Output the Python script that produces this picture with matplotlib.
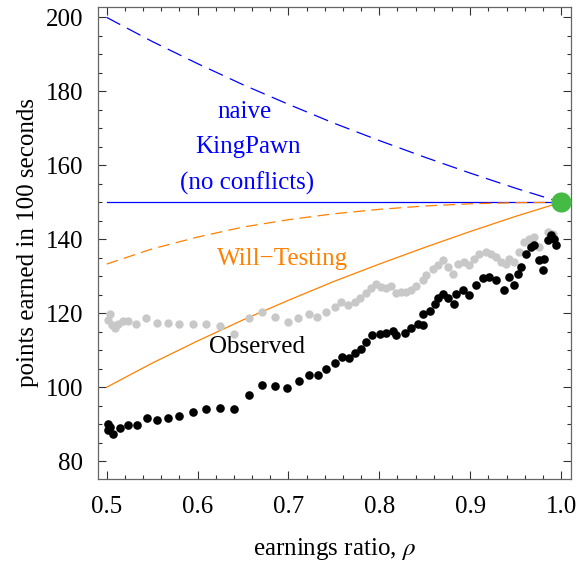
import matplotlib
matplotlib.use("Agg")
from matplotlib import pyplot as plt
from matplotlib.ticker import MultipleLocator

plt.rcParams['font.family'] = ['Liberation Serif', 'DejaVu Serif']
plt.rcParams['mathtext.fontset'] = 'stix'
plt.rcParams['lines.scale_dashes'] = False

# model curves at rho = 0.50, 0.55, ..., 1.00
rho = [0.50, 0.55, 0.60, 0.65, 0.70, 0.75, 0.80, 0.85, 0.90, 0.95, 1.00]
naive_dashed = [200.0, 193.5, 187.5, 181.8, 176.5, 171.4, 166.7, 162.2, 157.9, 153.8, 150.0]
naive_flat = [150.0] * 11
will_dashed = [133.3, 137.4, 140.6, 143.3, 145.3, 146.9, 148.1, 149.0, 149.6, 149.9, 150.0]
will_solid = [100.0, 106.5, 112.5, 118.2, 123.5, 128.6, 133.3, 137.8, 142.1, 146.2, 150.0]

# observed points (black)
obs_rho = [0.5018, 0.5018, 0.5036, 0.5069, 0.5146, 0.5234, 0.5330, 0.5440, 0.5549, 0.5670,
           0.5798, 0.5945, 0.6091, 0.6245, 0.6399, 0.6564, 0.6710, 0.6857, 0.6989, 0.7116,
           0.7226, 0.7325, 0.7418, 0.7509, 0.7589, 0.7663, 0.7736, 0.7802, 0.7857, 0.7923,
           0.8003, 0.8077, 0.8149, 0.8187, 0.8278, 0.8352, 0.8424, 0.8479, 0.8479, 0.8553,
           0.8608, 0.8644, 0.8699, 0.8754, 0.8827, 0.8846, 0.8919, 0.8992, 0.9066, 0.9138,
           0.9212, 0.9286, 0.9377, 0.9432, 0.9487, 0.9523, 0.9560, 0.9615, 0.9670, 0.9707,
           0.9762, 0.9798, 0.9816, 0.9853, 0.9890, 0.9926, 0.9945]
obs_pts = [90.0, 88.4, 89.2, 87.3, 88.9, 89.7, 89.7, 91.8, 91.1, 91.8,
           92.2, 93.2, 94.2, 94.5, 94.0, 98.0, 100.5, 100.2, 99.7, 101.7,
           103.2, 103.2, 104.8, 106.6, 108.2, 107.9, 109.3, 110.4, 112.2, 114.1,
           114.3, 114.7, 115.2, 114.1, 114.7, 115.9, 117.2, 116.8, 119.7, 120.6,
           122.6, 124.0, 125.1, 124.0, 122.6, 125.3, 126.2, 124.9, 127.6, 129.4,
           129.8, 128.9, 126.2, 129.8, 127.6, 130.7, 132.5, 136.1, 137.9, 138.4,
           134.3, 131.8, 134.8, 139.7, 141.1, 140.2, 138.4]

# second observed series (gray)
gray_rho = [0.5036, 0.5018, 0.5055, 0.5091, 0.5127, 0.5182, 0.5237, 0.5322, 0.5432, 0.5549,
            0.5670, 0.5798, 0.5945, 0.6091, 0.6245, 0.6402, 0.6564, 0.6710, 0.6849, 0.6996,
            0.7106, 0.7226, 0.7314, 0.7410, 0.7509, 0.7582, 0.7655, 0.7729, 0.7784, 0.7857,
            0.7912, 0.7967, 0.8022, 0.8077, 0.8132, 0.8187, 0.8242, 0.8297, 0.8352, 0.8407,
            0.8479, 0.8516, 0.8589, 0.8644, 0.8699, 0.8754, 0.8809, 0.8864, 0.8937, 0.8992,
            0.9047, 0.9102, 0.9176, 0.9231, 0.9286, 0.9341, 0.9396, 0.9432, 0.9487, 0.9542,
            0.9597, 0.9652, 0.9707, 0.9762, 0.9853, 0.9908]
gray_pts = [119.9, 118.1, 116.8, 115.9, 117.2, 117.9, 117.9, 117.2, 118.8, 117.4,
            117.4, 117.0, 117.2, 117.2, 116.5, 114.5, 118.6, 120.4, 119.0, 117.6,
            118.8, 119.9, 119.0, 120.4, 121.7, 123.1, 122.2, 123.1, 124.0, 125.6,
            126.7, 127.8, 127.1, 126.9, 127.3, 125.5, 125.8, 125.8, 126.2, 127.3,
            128.9, 130.3, 132.1, 133.0, 134.3, 132.5, 130.7, 133.4, 133.9, 133.0,
            134.8, 136.1, 136.6, 136.1, 135.2, 133.9, 133.4, 134.8, 133.9, 136.6,
            139.3, 140.2, 140.6, 137.9, 142.0, 141.5]

blue = '#0000ff'
orange = '#ff8000'

fig = plt.figure(figsize=(5.79, 5.66), dpi=100)
ax = fig.add_axes([0.1698, 0.1532, 0.8159, 0.835])

ax.plot(rho, naive_dashed, color=blue, lw=0.9, dashes=(11, 5.5))
ax.plot(rho, naive_flat, color=blue, lw=0.9)
ax.plot(rho, will_dashed, color=orange, lw=0.9, dashes=(8.5, 4.5))
ax.plot(rho, will_solid, color=orange, lw=0.9)

ax.plot(gray_rho, gray_pts, 'o', color='#c8c8c8', ms=6.0, mec='none')
ax.plot(obs_rho, obs_pts, 'o', color='black', ms=6.2, mec='none')
ax.plot([1.0], [150.0], 'o', color='#45bb45', ms=14.5, mec='none', zorder=5)

fs = 18
ax.text(0.652, 174.4, 'naive', color=blue, fontsize=fs, ha='center', va='center')
ax.text(0.6556, 165.0, 'KingPawn', color=blue, fontsize=fs, ha='center', va='center')
ax.text(0.654, 155.1, '(no conflicts)', color=blue, fontsize=fs, ha='center', va='center')
ax.text(0.694, 134.8, 'Will\u2212Testing', color=orange, fontsize=fs, ha='center', va='center')
ax.text(0.665, 110.9, 'Observed', color='black', fontsize=fs, ha='center', va='center')

ax.set_xlim(0.4908, 1.0106)
ax.set_ylim(75.1, 202.9)
ax.xaxis.set_major_locator(MultipleLocator(0.1))
ax.xaxis.set_minor_locator(MultipleLocator(0.02))
ax.yaxis.set_major_locator(MultipleLocator(20))
ax.yaxis.set_minor_locator(MultipleLocator(5))
ax.xaxis.set_major_formatter(plt.FuncFormatter(lambda v, p: '%.1f' % v))

ax.tick_params(which='both', direction='in', top=True, right=True, colors='#333333',
               labelcolor='black', labelsize=fs, width=0.8)
ax.tick_params(which='major', length=5.5)
ax.tick_params(which='minor', length=3)
ax.tick_params(axis='x', which='major', pad=12)
ax.tick_params(axis='y', which='major', pad=11)
for s in ax.spines.values():
    s.set_color('#666666')
    s.set_linewidth(0.9)

ax.set_xlabel(r'earnings ratio, $\rho$', fontsize=fs, labelpad=13)
ax.set_ylabel('points earned in 100 seconds', fontsize=fs, labelpad=5)

plt.savefig('out.png', dpi=100)
